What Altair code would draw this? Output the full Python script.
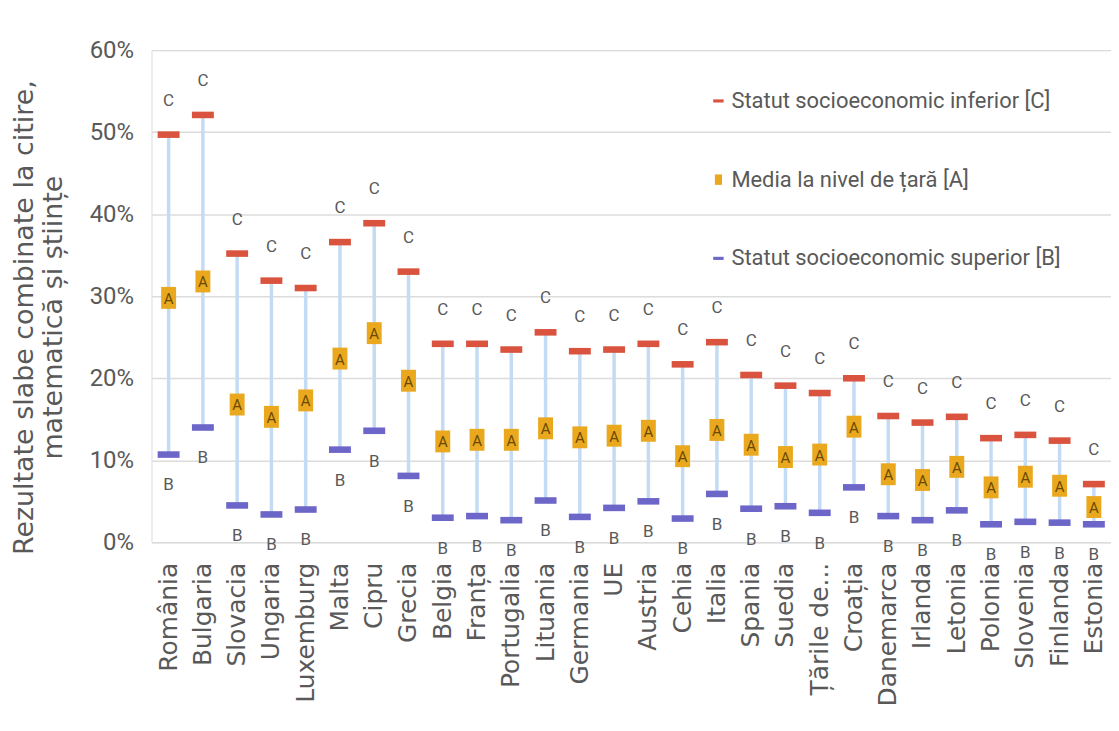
import altair as alt
import pandas as pd

countries = ["România", "Bulgaria", "Slovacia", "Ungaria", "Luxemburg", "Malta", "Cipru",
             "Grecia", "Belgia", "Franța", "Portugalia", "Lituania", "Germania", "UE",
             "Austria", "Cehia", "Italia", "Spania", "Suedia", "Țările de...", "Croația",
             "Danemarca", "Irlanda", "Letonia", "Polonia", "Slovenia", "Finlanda", "Estonia"]
low_ses = [49.7, 52.1, 35.2, 31.9, 31.0, 36.6, 38.9, 33.0, 24.2, 24.2, 23.5, 25.6, 23.3, 23.5,
           24.2, 21.7, 24.4, 20.4, 19.1, 18.2, 20.0, 15.4, 14.6, 15.3, 12.7, 13.1, 12.4, 7.1]
country_avg = [29.8, 31.8, 16.8, 15.3, 17.3, 22.4, 25.5, 19.7, 12.3, 12.5, 12.5, 13.9, 12.8, 13.0,
               13.6, 10.5, 13.7, 11.9, 10.4, 10.7, 14.1, 8.3, 7.6, 9.2, 6.7, 8.0, 6.9, 4.3]
high_ses = [10.7, 14.0, 4.5, 3.4, 4.0, 11.3, 13.6, 8.1, 3.0, 3.2, 2.7, 5.1, 3.1, 4.2,
            5.0, 2.9, 5.9, 4.1, 4.4, 3.6, 6.7, 3.2, 2.7, 3.9, 2.2, 2.5, 2.4, 2.2]

series_names = ["Statut socioeconomic inferior [C]", "Media la nivel de țară [A]",
                "Statut socioeconomic superior [B]"]
series_letters = ["C", "A", "B"]
series_colors = ["#d9533f", "#eaa81e", "#6d66c9"]
bar_shape = "M-1,-0.3H1V0.3H-1Z"
box_shape = "M-0.68,-1H0.68V1H-0.68Z"
series_shapes = [bar_shape, box_shape, bar_shape]

wide = pd.DataFrame({"country": countries, "C": [v / 100 for v in low_ses],
                     "A": [v / 100 for v in country_avg], "B": [v / 100 for v in high_ses]})
rows = []
for i, c in enumerate(countries):
    for name, letter, vals in zip(series_names, series_letters, [low_ses, country_avg, high_ses]):
        rows.append({"country": c, "series": name, "letter": letter, "value": vals[i] / 100})
long = pd.DataFrame(rows)

FONT_AX = "DejaVu Sans"
GRAY = "#595959"

x_enc = alt.X("country:N", sort=countries, scale=alt.Scale(paddingInner=0, paddingOuter=0),
              axis=alt.Axis(title=None, labelAngle=-90, labelFontSize=25, labelFont=FONT_AX,
                            labelColor=GRAY, ticks=False, domain=False, labelPadding=20,
                            labelLimit=220))
y_scale = alt.Scale(domain=[0, 0.6])

rules = alt.Chart(wide).mark_rule(color="#c4dbf4", strokeWidth=3.5).encode(
    x=x_enc,
    y=alt.Y("B:Q", scale=y_scale,
            axis=alt.Axis(format=".0%", values=[0, 0.1, 0.2, 0.3, 0.4, 0.5, 0.6],
                          title=["Rezultate slabe combinate la citire,", "matematică și științe"],
                          titleFont=FONT_AX, titleFontSize=27, titleFontWeight="normal",
                          titleColor=GRAY, titlePadding=22, titleY=268, labelFont="Roboto",
                          labelFontSize=24, labelColor=GRAY, labelPadding=18,
                          ticks=False, domain=False, gridColor="#dcdcdc", gridWidth=1.5)),
    y2="C:Q",
)

points = alt.Chart(long).mark_point(filled=True, opacity=1, size=484).encode(
    x=alt.X("country:N", sort=countries),
    y=alt.Y("value:Q", scale=y_scale),
    color=alt.Color("series:N", sort=series_names,
                    scale=alt.Scale(domain=series_names, range=series_colors),
                    legend=alt.Legend(title=None, orient="none", legendX=558, legendY=40,
                                      labelFont="Roboto", labelFontSize=22, labelColor=GRAY,
                                      symbolSize=110, rowPadding=57, labelOffset=2,
                                      labelLimit=400, symbolStrokeWidth=0)),
    shape=alt.Shape("series:N", sort=series_names,
                    scale=alt.Scale(domain=series_names, range=series_shapes)),
)

text_c = alt.Chart(wide).mark_text(dy=-34, font="Roboto", fontSize=17, color=GRAY).encode(
    x=alt.X("country:N", sort=countries), y=alt.Y("C:Q", scale=y_scale), text=alt.value("C"))
text_b = alt.Chart(wide).mark_text(dy=31, font="Roboto", fontSize=17, color=GRAY).encode(
    x=alt.X("country:N", sort=countries), y=alt.Y("B:Q", scale=y_scale), text=alt.value("B"))
text_a = alt.Chart(wide).mark_text(dy=1, font="Roboto", fontSize=15, color="#6b4a00").encode(
    x=alt.X("country:N", sort=countries), y=alt.Y("A:Q", scale=y_scale), text=alt.value("A"))

chart = alt.layer(rules, points, text_c, text_b, text_a).properties(
    width=963, height=494, padding={"left": 2, "top": 29, "right": 0, "bottom": 5}
).configure_view(stroke=None).configure(background="white")

chart.save("out.html", embed_options={"renderer": "svg", "actions": False})
